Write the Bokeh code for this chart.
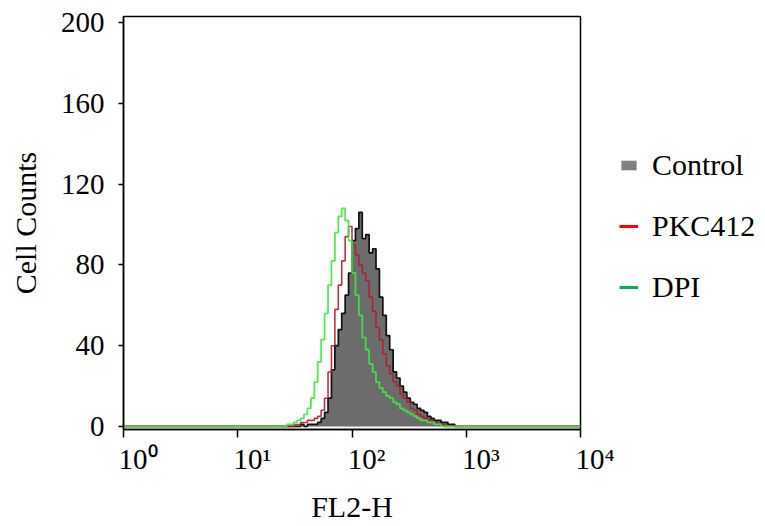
import numpy as np
from bokeh.plotting import figure
from bokeh.models import Legend, LegendItem, Range1d
from bokeh.embed import file_html
from bokeh.resources import INLINE

# FL2-H channel bin edges (log-spaced)
fl2_bin_edges = [25.1, 26.9, 28.8, 30.9, 33.1, 35.5, 38.0, 40.7, 43.7, 46.8,
                 50.1, 53.7, 57.5, 61.7, 66.1, 70.8, 75.9, 81.3, 87.1, 93.3,
                 100.0, 107.2, 114.8, 123.0, 131.8, 141.3, 151.4, 162.2, 173.8, 186.2,
                 199.5, 213.8, 229.1, 245.5, 263.0, 281.8, 302.0, 323.6, 346.7, 371.5,
                 398.1, 426.6, 457.1, 489.8, 524.8, 562.3, 602.6, 645.7, 691.8, 741.3,
                 794.3, 851.1]

control_counts = [0, 0, 0, 0, 0, 1, 0, 1, 1, 1, 2, 4, 7, 14, 28, 40, 48, 56, 65, 76,
                  92, 98, 106, 93, 95, 86, 88, 78, 64, 55, 45, 38, 27, 24, 20, 17, 14, 12, 11, 9,
                  8, 7, 5, 4, 3, 3, 2, 2, 1, 1, 0]
pkc412_counts = [0, 0, 0, 1, 1, 2, 2, 3, 3, 4, 5, 8, 14, 27, 40, 58, 70, 82, 94, 99,
                 90, 85, 80, 76, 72, 64, 57, 49, 43, 36, 30, 26, 22, 20, 16, 14, 12, 9, 8, 6,
                 5, 4, 3, 3, 2, 1, 1, 0, 0, 0, 0]
dpi_counts = [0, 1, 1, 2, 3, 4, 6, 9, 14, 22, 32, 43, 56, 70, 82, 96, 104, 108, 102, 92,
              76, 65, 55, 44, 38, 31, 27, 22, 19, 17, 15, 14, 12, 11, 9, 8, 7, 6, 5, 4,
              3, 3, 2, 2, 1, 1, 0, 0, 0, 0, 0]

x_min, x_max = 1, 10000
x_ticks = [1, 10, 100, 1000, 10000]
x_tick_labels = ["10\u2070", "10\u00b9", "10\u00b2", "10\u00b3", "10\u2074"]
y_ticks = [0, 40, 80, 120, 160, 200]
series_names = ["Control", "PKC412", "DPI"]

FONT = "Liberation Serif"

p = figure(frame_width=457, frame_height=413,
           x_axis_type="log", output_backend="svg", toolbar_location=None,
           min_border_left=123, min_border_top=16, min_border_right=0, min_border_bottom=0,
           x_range=Range1d(x_min, x_max), y_range=Range1d(-1.5, 203))
p.grid.visible = False
p.outline_line_color = "black"
p.outline_line_width = 1.5
p.background_fill_color = "white"
p.border_fill_color = "white"


def step_xy(counts):
    xs = [x_min] + list(fl2_bin_edges) + [x_max]
    ys = [0] + list(counts) + [0, 0]
    return xs, ys


cx, cy = step_xy(control_counts)
rx, ry = step_xy(pkc412_counts)
gx, gy = step_xy(dpi_counts)

p.varea_step(x=cx, y1=[0] * len(cx), y2=cy, step_mode="after", fill_color="#6c6c6c")
p.step(cx, cy, mode="after", line_color="#111111", line_width=1.7)
p.step(rx, ry, mode="after", line_color="#b01c30", line_width=1.6, line_alpha=0.9)
p.step(gx, gy, mode="after", line_color="#44e544", line_width=1.8, line_alpha=0.9)

# legend swatches: renderers kept outside the visible ranges (legend only)
off_x, off_y = [0.1, 0.2], [-20, -20]
leg_ctrl = p.quad(left=[0.1], right=[0.2], top=[-10], bottom=[-20],
                  fill_color="#808080", line_color=None)
leg_red = p.line(off_x, off_y, line_color="#ff0000", line_width=3)
leg_green = p.line(off_x, off_y, line_color="#00b050", line_width=3)

legend = Legend(items=[LegendItem(label=series_names[0], renderers=[leg_ctrl]),
                       LegendItem(label=series_names[1], renderers=[leg_red]),
                       LegendItem(label=series_names[2], renderers=[leg_green])])
legend.label_text_font = FONT
legend.label_text_font_size = "30px"
legend.label_text_color = "black"
legend.glyph_width = 19
legend.glyph_height = 12
legend.label_height = 35
legend.label_standoff = 14
legend.spacing = 26
legend.padding = 0
legend.margin = 0
legend.border_line_color = None
legend.background_fill_alpha = 0
p.add_layout(legend, "right")
legend.location = (39, 125)

# axes
for ax in (p.xaxis[0], p.yaxis[0]):
    ax.axis_line_color = "black"
    ax.axis_line_width = 1.5
    ax.major_tick_line_color = "black"
    ax.minor_tick_line_color = "black"
    ax.major_tick_line_width = 1.5
    ax.minor_tick_line_width = 1.2
    ax.major_tick_in = 0
    ax.minor_tick_in = 0
    ax.major_label_text_font = FONT
    ax.major_label_text_font_size = "29px"
    ax.major_label_text_color = "black"
    ax.axis_label_text_font = FONT
    ax.axis_label_text_font_size = "30px"
    ax.axis_label_text_font_style = "normal"
    ax.axis_label_text_color = "black"

p.xaxis.ticker = x_ticks
p.xaxis[0].ticker.num_minor_ticks = 10
p.xaxis.major_label_overrides = {t: "\u2002\u2002" + lab for t, lab in zip(x_ticks, x_tick_labels)}
p.xaxis.major_tick_out = 8
p.xaxis.minor_tick_out = 6
p.xaxis.major_label_standoff = 5
p.xaxis.axis_label = "FL2-H"
p.xaxis.axis_label_standoff = 12

p.yaxis.ticker = y_ticks
p.yaxis[0].ticker.num_minor_ticks = 4
p.yaxis.major_tick_out = 5
p.yaxis.minor_tick_out = 5
p.yaxis.major_label_standoff = 14
p.yaxis.axis_label = "Cell Counts"
p.yaxis.axis_label_standoff = 16

open("out.html", "w").write(file_html(p, INLINE))
